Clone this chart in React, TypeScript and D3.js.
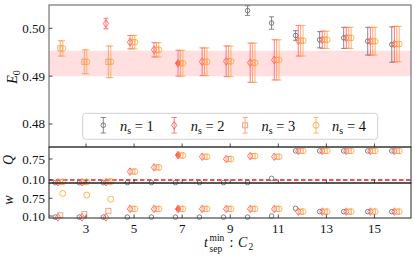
import React from 'react';
import * as d3 from 'd3';

const tVals = [2, 3, 4, 5, 6, 7, 8, 9, 10, 11, 12, 13, 14, 15, 16];
const nsLabels = ['1', '2', '3', '4'];

const ns1E = [null, null, null, null, null, null, null, null, 0.5037, 0.5011, 0.4985, 0.4976, 0.498, 0.4973, 0.4966];
const ns1Err = [null, null, null, null, null, null, null, null, 0.001, 0.0013, 0.001, 0.0017, 0.0022, 0.0029, 0.0037];
const ns2E = [null, null, 0.501, 0.4971, 0.4955, 0.4927, 0.493, 0.4931, 0.4928, 0.4934, 0.4974, 0.4976, 0.498, 0.4973, 0.4967];
const ns2Err = [null, null, 0.0011, 0.0014, 0.0015, 0.0027, 0.0029, 0.0032, 0.0041, 0.0042, 0.0032, 0.0018, 0.0022, 0.0029, 0.0037];
const ns3E = [0.4958, 0.493, 0.493, 0.4971, 0.4955, 0.4927, 0.493, 0.4931, 0.4928, 0.4934, 0.4974, 0.4976, 0.498, 0.4973, 0.4967];
const ns3Err = [0.0016, 0.0025, 0.0033, 0.0014, 0.0015, 0.0027, 0.0029, 0.0032, 0.0041, 0.0042, 0.0032, 0.0018, 0.0022, 0.0029, 0.0037];
const ns4E = [0.4958, 0.493, 0.493, 0.4971, 0.4955, 0.4927, 0.493, 0.4931, 0.4928, 0.4934, 0.4974, 0.4976, 0.498, 0.4973, 0.4967];
const ns4Err = [0.0016, 0.0025, 0.0033, 0.0014, 0.0015, 0.0027, 0.0029, 0.0032, 0.0041, 0.0042, 0.0032, 0.0018, 0.0022, 0.0029, 0.0037];

const ns1Q = [0.02, 0.02, 0.02, 0.02, 0.02, 0.02, 0.02, 0.02, 0.02, 0.15, 1.0, 1.0, 1.0, 1.0, 1.0];
const ns2Q = [0.03, 0.03, 0.03, 0.36, 0.49, 0.87, 0.82, 0.75, 0.84, 0.82, 1.0, 1.0, 1.0, 1.0, 1.0];
const ns3Q = [0.04, 0.04, 0.05, 0.36, 0.49, 0.86, 0.82, 0.75, 0.84, 0.82, 1.0, 1.0, 1.0, 1.0, 1.0];
const ns4Q = [0.04, 0.04, 0.05, 0.36, 0.49, 0.86, 0.82, 0.75, 0.84, 0.82, 1.0, 1.0, 1.0, 1.0, 1.0];

const ns1W = [0.06, 0.06, 0.06, 0.06, 0.06, 0.06, 0.06, 0.06, 0.06, 0.1, 0.38, 0.26, 0.26, 0.26, 0.26];
const ns2W = [0.05, 0.05, 0.05, 0.36, 0.36, 0.36, 0.36, 0.36, 0.36, 0.36, 0.26, 0.26, 0.26, 0.26, 0.26];
const ns3W = [0.13, 0.17, 0.29, 0.36, 0.36, 0.36, 0.36, 0.36, 0.36, 0.36, 0.26, 0.26, 0.26, 0.26, 0.26];
const ns4W = [0.93, 0.87, 0.72, 0.36, 0.36, 0.36, 0.36, 0.36, 0.36, 0.36, 0.26, 0.26, 0.26, 0.26, 0.26];

const bandLow = 0.49;
const bandHigh = 0.4953;
const qThreshold = 0.1;
const chosenT = 7;

const xTicks = [3, 5, 7, 9, 11, 13, 15];
const eTicks = [0.48, 0.49, 0.5];
const qTicks = [0.1, 0.75];
const wTicks = [0.1, 0.75];

const series = [
  { ns: nsLabels[0], E: ns1E, err: ns1Err, Q: ns1Q, w: ns1W, color: '#6b6b6b', shape: 'smallcircle', off: -0.28 },
  { ns: nsLabels[1], E: ns2E, err: ns2Err, Q: ns2Q, w: ns2W, color: '#ff5a5a', shape: 'diamond', off: -0.17 },
  { ns: nsLabels[2], E: ns3E, err: ns3Err, Q: ns3Q, w: ns3W, color: '#f99061', shape: 'square', off: -0.07 },
  { ns: nsLabels[3], E: ns4E, err: ns4Err, Q: ns4Q, w: ns4W, color: '#ffa93a', shape: 'circle', off: 0.03 },
];

const FONT = '"Liberation Serif", "DejaVu Serif", serif';

function Marker({ shape, cx, cy, color, filled }: any) {
  const fill = filled ? color : 'none';
  const common = { stroke: color, strokeWidth: 1, fill, strokeOpacity: 0.85 };
  if (shape === 'diamond') {
    const pts = [[cx, cy - 3.8], [cx + 2.7, cy], [cx, cy + 3.8], [cx - 2.7, cy]].map((p) => p.join(',')).join(' ');
    return <polygon points={pts} {...common} />;
  }
  if (shape === 'square') {
    return <rect x={cx - 2.5} y={cy - 2.5} width={5} height={5} {...common} />;
  }
  if (shape === 'smallcircle') {
    return <circle cx={cx} cy={cy} r={2.3} {...common} />;
  }
  return <circle cx={cx} cy={cy} r={3} {...common} />;
}

function ErrBar({ x, y1, y2, color }: any) {
  return (
    <g stroke={color} strokeWidth={1} strokeOpacity={0.8}>
      <line x1={x} x2={x} y1={y1} y2={y2} />
      <line x1={x - 2.6} x2={x + 2.6} y1={y1} y2={y1} />
      <line x1={x - 2.6} x2={x + 2.6} y1={y2} y2={y2} />
    </g>
  );
}

export default function App() {
  const W = 415;
  const H = 257;
  const L = 49;
  const R = 411;
  const mainTop = 5;
  const mainBot = 147;
  const qBot = 183;
  const wBot = 218;

  const x = d3.scaleLinear().domain([1.46, 16.52]).range([L, R]);
  const yE = d3.scaleLinear().domain([0.47519, 0.50487]).range([mainBot, mainTop]);
  const yQ = d3.scaleLinear().domain([0.007, 1.1215]).range([qBot, mainBot]);
  const yW = d3.scaleLinear().domain([0.0266, 1.312]).range([wBot, qBot]);

  const tickLen = 3.5;

  const legendItems = series.map((s, i) => ({ s, mx: 103.3 + i * 70.9, tx: 120 + i * 70.7 }));

  return (
    <svg width={W} height={H} style={{ position: 'absolute', left: 0, top: 0, background: '#fff' }} fontFamily={FONT}>
      <defs>
        <clipPath id="mainClip">
          <rect x={L} y={mainTop} width={R - L} height={mainBot - mainTop} />
        </clipPath>
      </defs>
      {/* band */}
      <rect x={L} y={yE(bandHigh)} width={R - L} height={yE(bandLow) - yE(bandHigh)} fill="rgba(255,110,110,0.22)" />

      {/* main panel points */}
      <g clipPath="url(#mainClip)">
        {series.map((s) =>
          tVals.map((t, i) => {
            const v = s.E[i];
            const e = s.err[i];
            if (v == null || e == null) return null;
            const cx = x(t + s.off);
            return (
              <g key={s.ns + '-' + t}>
                <ErrBar x={cx} y1={yE(v + e)} y2={yE(v - e)} color={s.color} />
                <Marker shape={s.shape} cx={cx} cy={yE(v)} color={s.color} filled={s.ns === '2' && t === chosenT} />
              </g>
            );
          })
        )}
      </g>

      {/* legend */}
      <rect x={82.7} y={113.3} width={295} height={26} rx={3} ry={3} fill="rgba(255,255,255,0.85)" stroke="#d0d0d0" strokeWidth={1} />
      {legendItems.map(({ s, mx, tx }) => (
        <g key={'leg' + s.ns}>
          <ErrBar x={mx} y1={117.5} y2={133} color={s.color} />
          <Marker shape={s.shape} cx={mx} cy={125.3} color={s.color} filled={false} />
          <text x={tx} y={131} fontSize={14.5} fill="#111">
            <tspan fontStyle="italic">n</tspan>
            <tspan fontSize={10} dy={2.5}>s</tspan>
            <tspan dy={-2.5}> = {s.ns}</tspan>
          </text>
        </g>
      ))}

      {/* Q panel */}
      <line x1={L} x2={R} y1={yQ(qThreshold)} y2={yQ(qThreshold)} stroke="#e31a1c" strokeWidth={1.3} strokeDasharray="4.5,2.5" />
      {series.map((s) =>
        tVals.map((t, i) => (
          <Marker key={'q' + s.ns + t} shape={s.shape} cx={x(t + s.off)} cy={yQ(s.Q[i])} color={s.color} filled={s.ns === '2' && t === chosenT} />
        ))
      )}

      {/* w panel */}
      {series.map((s) =>
        tVals.map((t, i) => (
          <Marker key={'w' + s.ns + t} shape={s.shape} cx={x(t + s.off)} cy={yW(s.w[i])} color={s.color} filled={s.ns === '2' && t === chosenT} />
        ))
      )}

      {/* frames */}
      <rect x={L} y={mainTop} width={R - L} height={mainBot - mainTop} fill="none" stroke="#808080" strokeWidth={1.3} />
      <rect x={L} y={mainBot} width={R - L} height={qBot - mainBot} fill="none" stroke="#222" strokeWidth={1} />
      <rect x={L} y={qBot} width={R - L} height={wBot - qBot} fill="none" stroke="#222" strokeWidth={1} />

      {/* x ticks (inward) */}
      {[mainBot, qBot, wBot].map((yb) =>
        xTicks.map((t) => (
          <line key={'xt' + yb + t} x1={x(t)} x2={x(t)} y1={yb} y2={yb - tickLen} stroke="#222" strokeWidth={0.8} />
        ))
      )}
      {xTicks.map((t) => (
        <text key={'xl' + t} x={x(t)} y={232.5} fontSize={13} textAnchor="middle" fill="#111">{t}</text>
      ))}

      {/* y ticks */}
      {eTicks.map((v) => (
        <g key={'et' + v}>
          <line x1={L} x2={L + tickLen} y1={yE(v)} y2={yE(v)} stroke="#222" strokeWidth={0.8} />
          <text x={45} y={yE(v) + 4.5} fontSize={13} textAnchor="end" fill="#111">{v.toFixed(2)}</text>
        </g>
      ))}
      {qTicks.map((v) => (
        <g key={'qt' + v}>
          <line x1={L} x2={L + tickLen} y1={yQ(v)} y2={yQ(v)} stroke="#222" strokeWidth={0.8} />
          <text x={45} y={yQ(v) + 4.5} fontSize={13} textAnchor="end" fill="#111">{v.toFixed(2)}</text>
        </g>
      ))}
      {wTicks.map((v) => (
        <g key={'wt' + v}>
          <line x1={L} x2={L + tickLen} y1={yW(v)} y2={yW(v)} stroke="#222" strokeWidth={0.8} />
          <text x={45} y={yW(v) + 4.5} fontSize={13} textAnchor="end" fill="#111">{v.toFixed(2)}</text>
        </g>
      ))}

      {/* y labels */}
      <text transform="translate(17,77) rotate(-90)" fontSize={14} textAnchor="middle" fill="#111">
        <tspan fontStyle="italic">E</tspan>
        <tspan fontSize={10} dy={2.5}>0</tspan>
      </text>
      <text transform="translate(13,160) rotate(-90)" fontSize={14} textAnchor="middle" fontStyle="italic" fill="#111">Q</text>
      <text transform="translate(13,200) rotate(-90)" fontSize={14} textAnchor="middle" fontStyle="italic" fill="#111">w</text>

      {/* x label */}
      <text x={204} y={247} fontSize={14} fontStyle="italic" fill="#111">t</text>
      <text x={209.5} y={241} fontSize={9.5} fill="#111">min</text>
      <text x={209.5} y={251.5} fontSize={9.5} fill="#111">sep</text>
      <text x={229.5} y={247} fontSize={14} fill="#111">:</text>
      <text x={238} y={247} fontSize={14} fontStyle="italic" fill="#111">C</text>
      <text x={248.5} y={250} fontSize={9.5} fill="#111">2</text>
    </svg>
  );
}
